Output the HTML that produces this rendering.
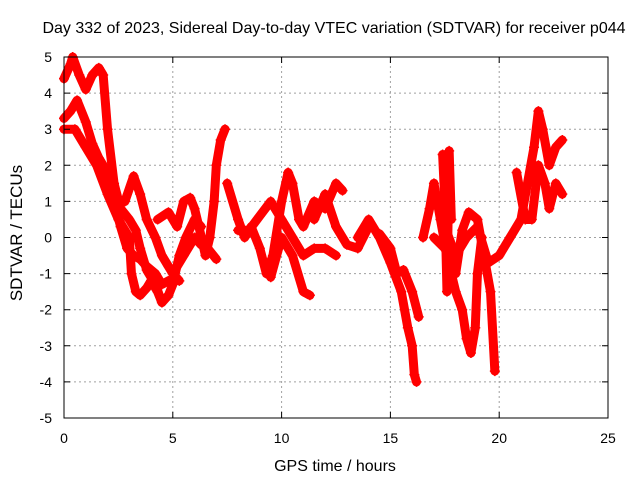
<!DOCTYPE html>
<html><head><meta charset="utf-8"><style>
body{margin:0;background:#fff;}
svg{display:block;font-family:"Liberation Sans",sans-serif;}
</style></head><body>
<svg id="chart" width="640" height="480">
<text x="334" y="33" text-anchor="middle" font-size="16" fill="#000">Day 332 of 2023, Sidereal Day-to-day VTEC variation (SDTVAR) for receiver p044</text>
<g id="grid"></g>
<g id="series"></g>
<rect x="64" y="57" width="544" height="361" fill="none" stroke="#000" stroke-width="1"/>
<g id="axes"></g>
<text x="335" y="471" text-anchor="middle" font-size="16">GPS time / hours</text>
<text transform="translate(22,233) rotate(-90)" text-anchor="middle" font-size="17">SDTVAR / TECUs</text>
</svg>
<script>
const xTicks=[0,5,10,15,20,25];
const yTicks=[-5,-4,-3,-2,-1,0,1,2,3,4,5];
const trackA=[[0,4.4],[0.3,4.8],[0.4,5],[0.7,4.5],[1,4.1],[1.3,4.5],[1.6,4.7],[1.8,4.5],[2,3],[2.3,1.5],[2.6,0.8],[3,0.5],[3.3,0.2],[3.5,-0.3],[3.8,-0.9],[4.2,-1.3],[4.5,-1.8],[4.8,-1.6],[5,-1.3],[5.3,-0.5],[5.6,0],[6,0.5],[6.3,0.3]];
const trackB=[[0,3.3],[0.3,3.5],[0.6,3.8],[1,3.2],[1.3,2.6],[1.6,2.2],[2,1.8],[2.3,1],[2.6,0.3],[2.9,-0.3],[3.2,-0.5],[3.5,-0.6],[3.8,-0.8],[4.2,-1],[4.5,-1.3],[4.8,-1.2]];
const trackC=[[0,3],[0.5,3],[1,2.5],[1.5,2],[2,1.2],[2.5,0.5],[3,0],[3.1,-1],[3.3,-1.5],[3.5,-1.6],[3.8,-1.4],[4,-1.2],[4.3,-1.5],[4.5,-1.8]];
const trackD=[[2.8,1],[3.2,1.7],[3.5,1.2],[3.8,0.5],[4.2,0],[4.5,-0.5],[4.8,-0.8],[5,-1],[5.3,-1.2]];
const trackE=[[4.3,0.5],[4.8,0.7],[5.2,0.3],[5.5,1],[5.8,1.1],[6,0.8],[6.2,0.3],[6.5,-0.5],[6.7,0],[6.9,1],[7,2],[7.2,2.7],[7.4,3]];
const trackF=[[5,-1],[5.5,-0.5],[6,0],[6.3,-0.2],[6.6,-0.3],[7,-0.6]];
const trackG=[[7.5,1.5],[8,0.5],[8.3,0],[8.6,0.3],[9,-0.3],[9.3,-1],[9.6,-0.5],[10,1],[10.3,1.8],[10.5,1.5],[10.8,0.5],[11,0.3],[11.5,1],[12,0.8],[12.5,1.5],[12.8,1.3]];
const trackH=[[8,0.2],[8.5,0.2],[9,0.6],[9.5,1],[10,0.5],[10.5,0],[11,-0.5],[11.5,-0.3],[12,-0.3],[12.5,-0.5]];
const trackI=[[9.5,-1.1],[10,0],[10.5,-0.5],[11,-1.5],[11.3,-1.6]];
const trackJ=[[11.5,0.5],[12,1.2],[12.5,0.3],[13,-0.2],[13.5,-0.3],[14,0.3]];
const trackK=[[13.5,0],[14,0.5],[14.5,0],[15,-0.7],[15.5,-1.5],[15.8,-2.5],[16,-3],[16.1,-3.8],[16.2,-4]];
const trackL=[[14.5,0.1],[15,-0.3],[15.3,-1],[15.6,-0.9],[16,-1.5],[16.3,-2.2]];
const trackM=[[16.5,0],[16.8,0.8],[17,1.5],[17.3,0.5],[17.6,-0.5],[18,-1.5],[18.3,-2],[18.5,-2.8],[18.7,-3.2],[18.9,-2.5],[19,-1],[19.2,0]];
const trackN=[[17,0],[17.5,-0.3],[18,-1],[18.3,0.2],[18.6,0.7],[19,0.5],[19.3,-0.5],[19.6,-1.5],[19.8,-3.7]];
const trackO=[[17.5,0.3],[18,-0.5],[18.5,0],[19,0.3],[19.5,-0.7],[20,-0.5],[20.5,0],[21,0.5],[21.3,1.5],[21.6,2.5],[21.8,3.5],[22,3],[22.3,2],[22.6,2.5],[22.9,2.7]];
const trackP=[[20.8,1.8],[21.2,0.5],[21.5,0.5],[21.8,2],[22.1,1.5],[22.3,0.8],[22.6,1.5],[22.9,1.2]];
const trackQ=[[17.4,2.3],[17.5,1],[17.6,-1.5],[17.7,2.4],[17.8,0.5]];
const tracks=[trackA,trackB,trackC,trackD,trackE,trackF,trackG,trackH,trackI,trackJ,trackK,trackL,trackM,trackN,trackO,trackP,trackQ];
const NS="http://www.w3.org/2000/svg";
const X0=64,X1=608,Y0=418,Y1=57;
function sx(v){return X0+(v-0)/(25-0)*(X1-X0);}
function sy(v){return Y0-(v+5)/10*(Y0-Y1);}
const grid=document.getElementById('grid'),axes=document.getElementById('axes'),ser=document.getElementById('series');
function mk(tag,attrs,parent){const e=document.createElementNS(NS,tag);for(const k in attrs)e.setAttribute(k,attrs[k]);parent.appendChild(e);return e;}
xTicks.forEach(t=>{const x=sx(t);
 if(t>0&&t<25){const g=mk('line',{x1:x,x2:x,y1:Y0,y2:Y1,stroke:'#a0a0a0','stroke-dasharray':'2,3'},grid);
 
 }
 const tk=mk('path',{d:`M${x},${Y0}v-6M${x},${Y1}v6`,stroke:'#000'},axes);
 
 
 const l=mk('text',{x:x,y:443,'text-anchor':'middle','font-size':14},axes);l.textContent=t;
 
 });
yTicks.forEach(t=>{const y=sy(t);
 if(t>-5&&t<5){const g=mk('line',{x1:X0,x2:X1,y1:y,y2:y,stroke:'#a0a0a0','stroke-dasharray':'2,3'},grid);
 
 }
 const tk=mk('path',{d:`M${X0},${y}h6M${X1},${y}h-6`,stroke:'#000'},axes);
 
 
 const l=mk('text',{x:52,y:y+5,'text-anchor':'end','font-size':14},axes);l.textContent=t;
 
 });
tracks.forEach(tr=>{
 const pl=mk('polyline',{points:tr.map(p=>sx(p[0])+','+sy(p[1])).join(' '),fill:'none',stroke:'#f00','stroke-width':9,'stroke-linejoin':'round','stroke-linecap':'round'},ser);
 
 
 tr.forEach(p=>{const x=sx(p[0]),y=sy(p[1]);
  const m=mk('path',{d:`M${x-5},${y}h10M${x},${y-5}v10`,stroke:'#f00','stroke-width':1.5},ser);
  
  });
});
</script>
</body></html>
